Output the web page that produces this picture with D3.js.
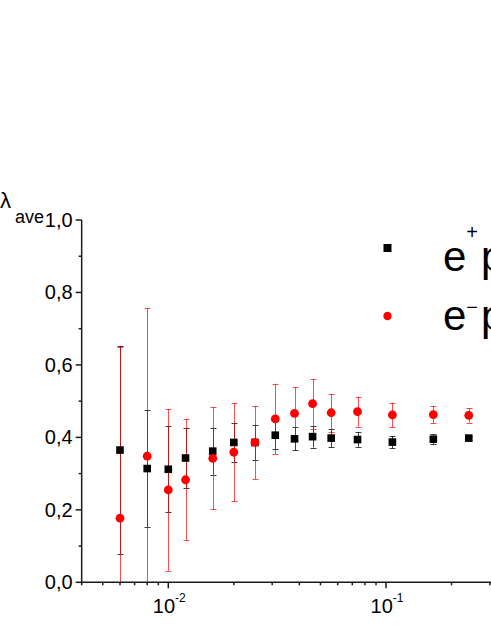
<!DOCTYPE html>
<html>
<head>
<meta charset="utf-8">
<script src="https://cdn.jsdelivr.net/npm/d3@7"></script>
<style>
  html, body { margin: 0; padding: 0; background: #fff; overflow: hidden; }
  svg { display: block; font-family: "Liberation Sans", Arial, sans-serif; }
</style>
</head>
<body>
<div class="graph-wrapper"></div>
<script>
// x values shared by both series
const xValues = [0.006, 0.008, 0.01, 0.012, 0.016, 0.02, 0.025, 0.031, 0.038, 0.046, 0.056, 0.074, 0.107, 0.165, 0.24];

// e+p (black squares)
const posValues = [0.365, 0.314, 0.312, 0.343, 0.362, 0.386, 0.386, 0.406, 0.396, 0.402, 0.398, 0.394, 0.387, 0.395, 0.398];
const posErrors = [0.287, 0.162, 0.119, 0.083, 0.065, 0.054, 0.049, 0.039, 0.032, 0.030, 0.025, 0.020, 0.017, 0.013, 0.005];

// e-p (red circles)
const negValues = [0.177, 0.348, 0.255, 0.283, 0.342, 0.359, 0.386, 0.451, 0.466, 0.493, 0.468, 0.471, 0.462, 0.463, 0.461];
const negErrors = [0.473, 0.408, 0.223, 0.167, 0.141, 0.135, 0.101, 0.097, 0.073, 0.069, 0.052, 0.041, 0.034, 0.024, 0.020];

const yTicks = [0, 0.2, 0.4, 0.6, 0.8, 1.0];
const yMinorTicks = [0.1, 0.3, 0.5, 0.7, 0.9];
const xTicks = [0.01, 0.1];
const xTickExponents = ["-2", "-1"];
const xMinorTicks = [0.004, 0.005, 0.006, 0.007, 0.008, 0.009, 0.02, 0.03, 0.04, 0.05, 0.06, 0.07, 0.08, 0.09, 0.2, 0.3];

const legendItems = ["+", "\u2212"];

const width = 491;
const height = 635;

const x = d3.scaleLog().domain([0.01, 0.1]).range([168.3, 386]);
const y = d3.scaleLinear().domain([0, 1]).range([582.3, 220]);
const xLeft = x(0.004);

const pos = xValues.map((v, i) => ({ x: v, y: posValues[i], e: posErrors[i] }));
const neg = xValues.map((v, i) => ({ x: v, y: negValues[i], e: negErrors[i] }));

const svg = d3.select(".graph-wrapper").append("svg")
    .attr("width", width)
    .attr("height", height)

svg.append("clipPath")
    .attr("id", "plot-clip")
    .append("rect")
    .attr("x", xLeft)
    .attr("y", y(1) - 2)
    .attr("width", width)
    .attr("height", y(0) - y(1) + 2)

const plot = svg.append("g").attr("clip-path", "url(#plot-clip)");

function errorBars(g, data, color, opacity) {
    const bar = g.append("g")
        .attr("stroke", color)
        .attr("stroke-opacity", opacity)
        .attr("stroke-width", 1)
        .selectAll("g")
        .data(data)
        .join("g")
        .attr("transform", d => `translate(${Math.round(x(d.x)) + 0.5},0)`)

    bar.append("line")
        .attr("y1", d => y(d.y - d.e))
        .attr("y2", d => y(d.y + d.e))

    bar.append("line")
        .attr("x1", -3).attr("x2", 3)
        .attr("y1", d => Math.round(y(d.y + d.e)) + 0.5)
        .attr("y2", d => Math.round(y(d.y + d.e)) + 0.5)

    bar.append("line")
        .attr("x1", -3).attr("x2", 3)
        .attr("y1", d => Math.round(y(d.y - d.e)) + 0.5)
        .attr("y2", d => Math.round(y(d.y - d.e)) + 0.5)
}

// black bars first, the red ones lie over them
errorBars(plot, pos, "#000", 0.75);
errorBars(plot, neg, "#ff0000", 0.7);

plot.append("g")
    .selectAll("rect")
    .data(pos)
    .join("rect")
    .attr("x", d => x(d.x) - 3.8)
    .attr("y", d => y(d.y) - 3.8)
    .attr("width", 7.6)
    .attr("height", 7.6)
    .attr("fill", "#000")

plot.append("g")
    .selectAll("circle")
    .data(neg)
    .join("circle")
    .attr("cx", d => x(d.x))
    .attr("cy", d => y(d.y))
    .attr("r", 4.4)
    .attr("fill", "#ff0000")

// axes
const axisColor = "#1a1a1a";
const axes = svg.append("g").attr("stroke", axisColor).attr("stroke-width", 1.5);

axes.append("line")
    .attr("x1", xLeft).attr("x2", xLeft)
    .attr("y1", y(1)).attr("y2", y(0))

axes.append("line")
    .attr("x1", xLeft).attr("x2", width)
    .attr("y1", y(0)).attr("y2", y(0))

axes.selectAll(".ymaj")
    .data(yTicks)
    .join("line")
    .attr("class", "ymaj")
    .attr("x1", xLeft - 6).attr("x2", xLeft)
    .attr("y1", d => y(d)).attr("y2", d => y(d))

axes.selectAll(".ymin")
    .data(yMinorTicks)
    .join("line")
    .attr("class", "ymin")
    .attr("x1", xLeft - 3).attr("x2", xLeft)
    .attr("y1", d => y(d)).attr("y2", d => y(d))

axes.selectAll(".xmaj")
    .data(xTicks)
    .join("line")
    .attr("class", "xmaj")
    .attr("x1", d => x(d)).attr("x2", d => x(d))
    .attr("y1", y(0)).attr("y2", y(0) + 6)

axes.selectAll(".xmin")
    .data(xMinorTicks)
    .join("line")
    .attr("class", "xmin")
    .attr("x1", d => x(d)).attr("x2", d => x(d))
    .attr("y1", y(0)).attr("y2", y(0) + 3)

// tick labels
const fmt = d3.format(".1f");

svg.append("g")
    .selectAll("text")
    .data(yTicks)
    .join("text")
    .attr("x", xLeft - 9)
    .attr("y", d => y(d) + 7)
    .attr("text-anchor", "end")
    .attr("font-size", 20)
    .attr("fill", "#000")
    .text(d => fmt(d).replace(".", ","))

const xLabel = svg.append("g")
    .selectAll("text")
    .data(xTicks)
    .join("text")
    .attr("x", d => x(d) + 1)
    .attr("y", 613)
    .attr("text-anchor", "middle")
    .attr("fill", "#000")

xLabel.append("tspan")
    .attr("font-size", 20)
    .text("10")

xLabel.append("tspan")
    .attr("font-size", 12)
    .attr("dy", -11)
    .text((d, i) => xTickExponents[i])

// y axis title
const yTitle = svg.append("text")
    .attr("x", 0)
    .attr("y", 208)
    .attr("fill", "#000")

yTitle.append("tspan")
    .attr("font-size", 22)
    .text("\u03bb")

yTitle.append("tspan")
    .attr("x", 15)
    .attr("y", 223)
    .attr("font-size", 18)
    .text("ave")

// legend
const legend = svg.append("g")
    .selectAll("g")
    .data(legendItems)
    .join("g")
    .attr("transform", (d, i) => `translate(0,${i * 59})`)

legend.filter((d, i) => i === 0).append("rect")
    .attr("x", 383.5).attr("y", 244)
    .attr("width", 8).attr("height", 8)
    .attr("fill", "#000")

legend.filter((d, i) => i === 1).append("circle")
    .attr("cx", 387.5).attr("cy", 257)
    .attr("r", 4.2)
    .attr("fill", "#ff0000")

const legendText = legend.append("text")
    .attr("x", 443)
    .attr("y", 271)
    .attr("fill", "#000")

legendText.append("tspan")
    .attr("font-size", 42)
    .text("e")

legendText.append("tspan")
    .attr("font-size", 20)
    .attr("dy", (d, i) => i === 0 ? -32 : -16)
    .text(d => d)

legendText.append("tspan")
    .attr("font-size", 42)
    .attr("dx", 3)
    .attr("dy", (d, i) => i === 0 ? 32 : 16)
    .text("p")
</script>
</body>
</html>
